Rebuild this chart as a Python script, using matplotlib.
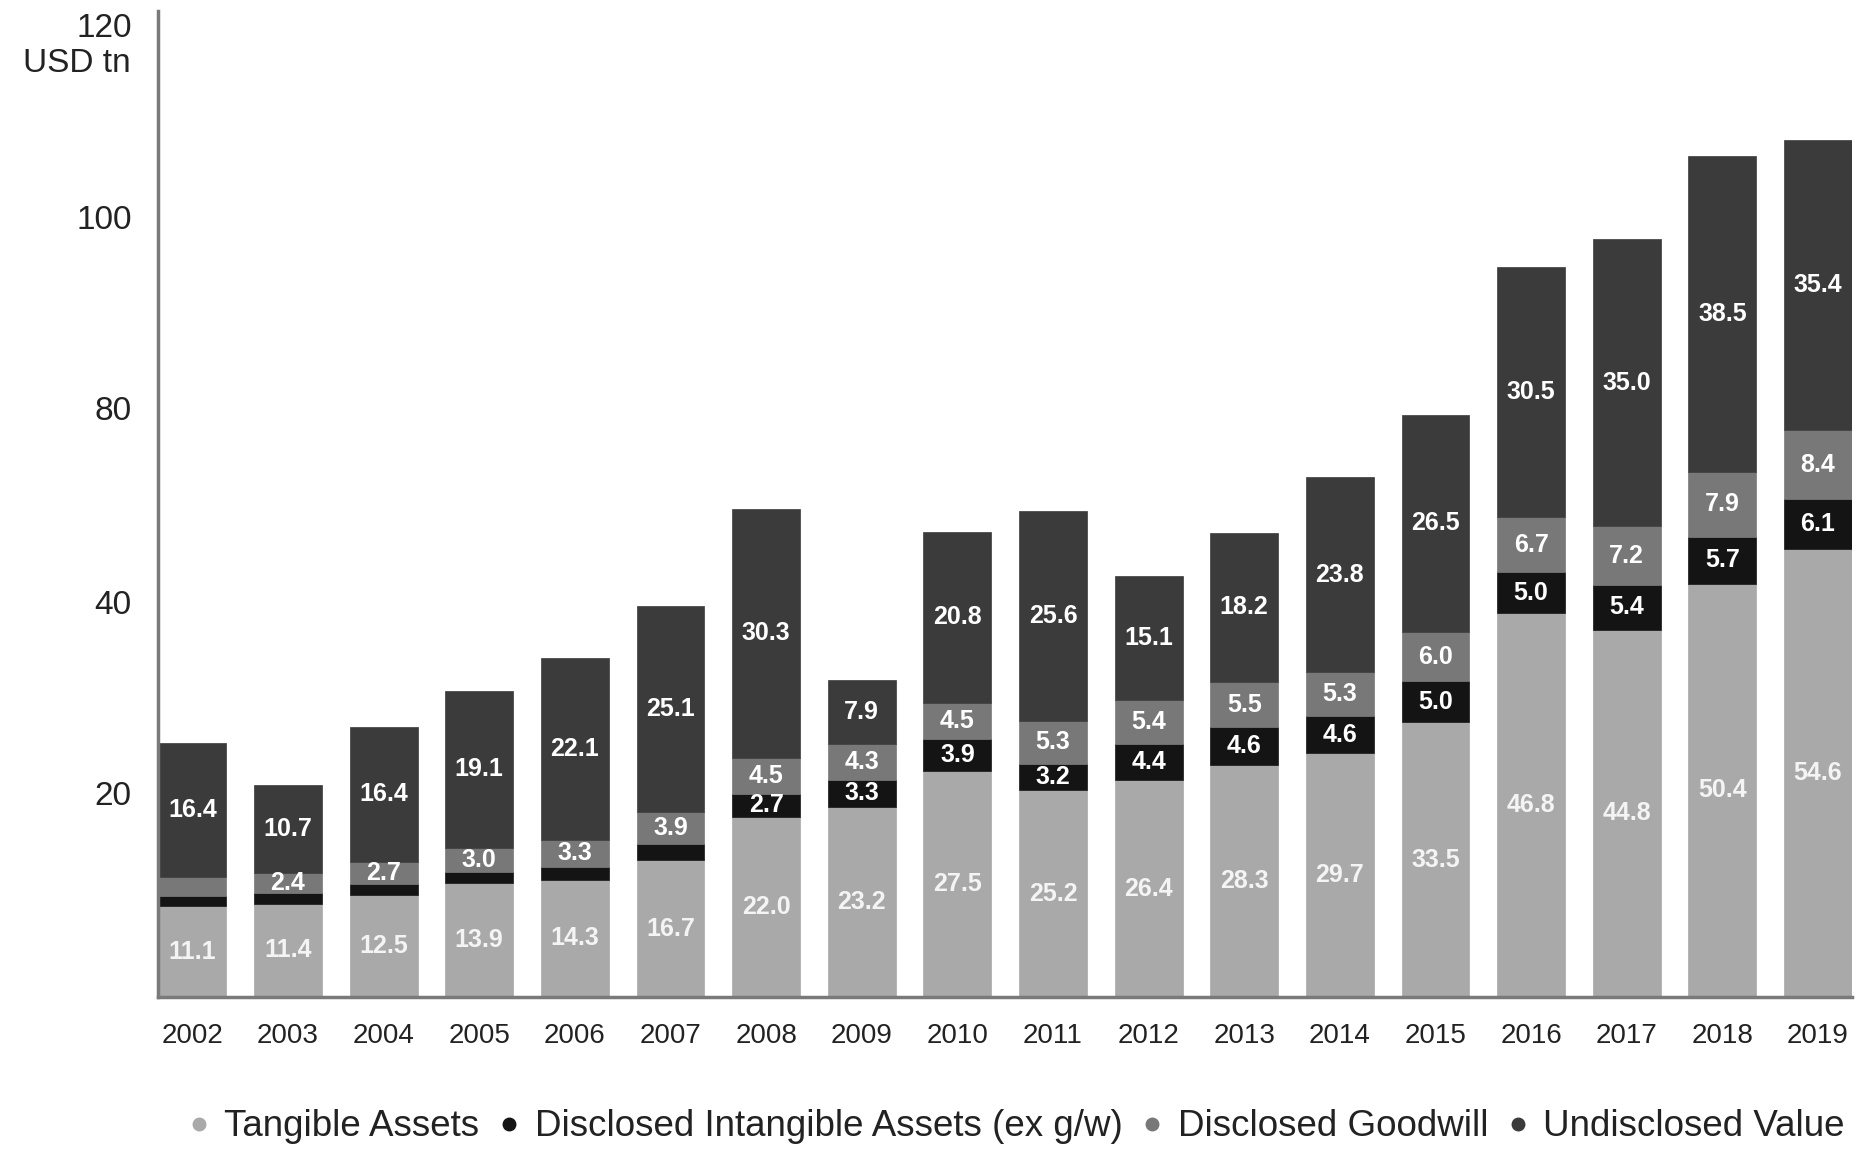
import matplotlib
matplotlib.use("Agg")
import matplotlib.pyplot as plt
from matplotlib.lines import Line2D
import numpy as np

plt.rcParams['font.family'] = ['Liberation Sans', 'DejaVu Sans']

years = ['2002', '2003', '2004', '2005', '2006', '2007', '2008', '2009', '2010',
         '2011', '2012', '2013', '2014', '2015', '2016', '2017', '2018', '2019']
tangible = [11.1, 11.4, 12.5, 13.9, 14.3, 16.7, 22.0, 23.2, 27.5,
            25.2, 26.4, 28.3, 29.7, 33.5, 46.8, 44.8, 50.4, 54.6]
intangible = [1.2, 1.3, 1.3, 1.3, 1.6, 2.0, 2.7, 3.3, 3.9,
              3.2, 4.4, 4.6, 4.6, 5.0, 5.0, 5.4, 5.7, 6.1]
goodwill = [2.3, 2.4, 2.7, 3.0, 3.3, 3.9, 4.5, 4.3, 4.5,
            5.3, 5.4, 5.5, 5.3, 6.0, 6.7, 7.2, 7.9, 8.4]
undisclosed = [16.4, 10.7, 16.4, 19.1, 22.1, 25.1, 30.3, 7.9, 20.8,
               25.6, 15.1, 18.2, 23.8, 26.5, 30.5, 35.0, 38.5, 35.4]

series_names = ['Tangible Assets', 'Disclosed Intangible Assets (ex g/w)',
                'Disclosed Goodwill', 'Undisclosed Value']
colors = ['#a9a9a9', '#141414', '#787878', '#3b3b3b']
label_colors = ['#f4f4f4', 'white', 'white', 'white']

ytick_pos = [24.9, 48.2, 71.8, 95.1, 118.5]
ytick_labels = ['20', '40', '80', '100', '120']

fig = plt.figure(figsize=(18.58, 11.52), dpi=100)
ax = fig.add_axes([0.085, 0.1345, 0.912, 0.856])

x = np.arange(len(years))
bottom = np.zeros(len(years))
for vals, col, lcol in zip([tangible, intangible, goodwill, undisclosed], colors, label_colors):
    vals = np.array(vals)
    ax.bar(x, vals, width=0.71, bottom=bottom, color=col, edgecolor=col, linewidth=0.5)
    for xi, b, v in zip(x, bottom, vals):
        # small segments carry no label in the original
        if v >= 2.4:
            ax.text(xi, b + v / 2, f'{v:.1f}', ha='center', va='center',
                    color=lcol, fontsize=18, fontweight='bold')
    bottom += vals

ax.set_xlim(-0.36, len(years) - 1 + 0.36)
ax.set_ylim(0, 120.2)
ax.set_xticks(x)
ax.set_xticklabels(years, fontsize=20, color='#222222')
ax.set_yticks(ytick_pos)
ax.set_yticklabels(ytick_labels, fontsize=24, color='#222222')
ax.tick_params(axis='x', length=0, pad=19)
ax.tick_params(axis='y', length=0, pad=19)

for s in ['top', 'right']:
    ax.spines[s].set_visible(False)
for s in ['left', 'bottom']:
    ax.spines[s].set_color('#7a7a7a')
    ax.spines[s].set_linewidth(2.5)

fig.text(131 / 1858, 1 - 63 / 1152, 'USD tn', ha='right', va='center',
         fontsize=24, color='#222222')

handles = [Line2D([], [], marker='o', linestyle='none', markersize=9,
                  markerfacecolor=c, markeredgecolor=c) for c in colors]
fig.legend(handles, series_names, loc='center', bbox_to_anchor=(0.547, 1 - 1127 / 1152),
           ncol=4, frameon=False, fontsize=26.5, handlelength=0.6, handletextpad=0.4,
           columnspacing=0.5, labelcolor='#222222')

fig.savefig('out.png', dpi=100)
